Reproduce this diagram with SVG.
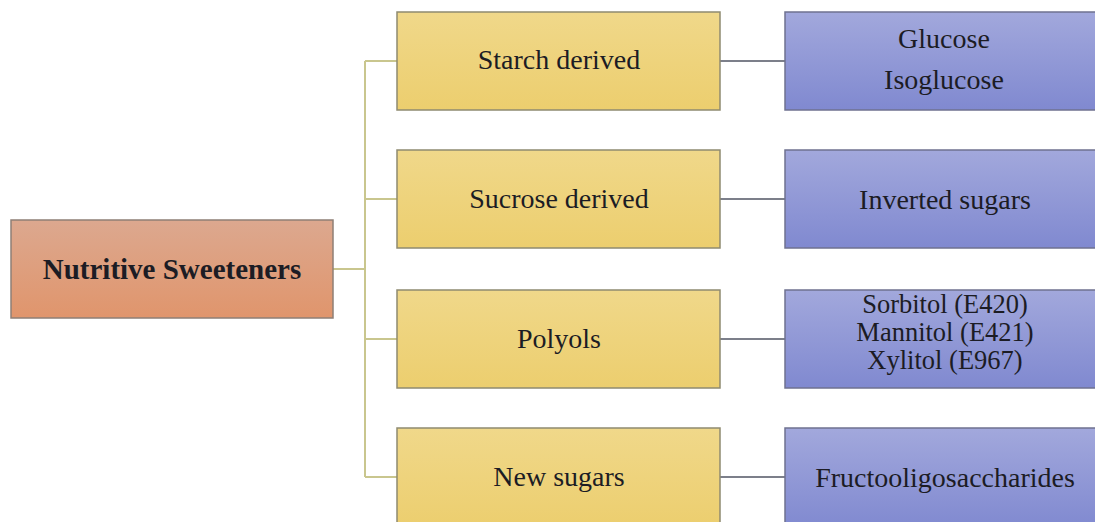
<svg xmlns="http://www.w3.org/2000/svg" width="1095" height="522" viewBox="0 0 1095 522">
<defs>
<linearGradient id="gRoot" x1="0" y1="0" x2="0" y2="1"><stop offset="0" stop-color="#dca88f"/><stop offset="1" stop-color="#e0956c"/></linearGradient>
<linearGradient id="gY" x1="0" y1="0" x2="0" y2="1"><stop offset="0" stop-color="#f0d88a"/><stop offset="1" stop-color="#ecce6e"/></linearGradient>
<linearGradient id="gB" x1="0" y1="0" x2="0" y2="1"><stop offset="0" stop-color="#a2a8dc"/><stop offset="1" stop-color="#8089d0"/></linearGradient>
</defs>
<style>
.root{fill:url(#gRoot);stroke:#8e7f76;stroke-width:1.5}
.y{fill:url(#gY);stroke:#8f8a70;stroke-width:1.5}
.b{fill:url(#gB);stroke:#6f7290;stroke-width:1.5}
.t{font-family:"Liberation Serif","Times New Roman",serif;font-size:28px;fill:#1c1c24;text-anchor:middle}
.bold{font-weight:bold;font-size:29px}
.sm{font-size:26.5px}
.bus{stroke:#c9c68e;stroke-width:2;fill:none}
.lnk{stroke:#7c7f8a;stroke-width:2;fill:none}
</style>
<rect width="1095" height="522" fill="#ffffff"/>
<g id="connectors">
<path class="bus" d="M333 269H365M365 61V477M365 61H397M365 199H397M365 339H397M365 477H397"/>
<path class="lnk" d="M720 61H785M720 199H785M720 339H785M720 477H785"/>
</g>
<g id="root"><rect class="root" x="11" y="220" width="322" height="98"/><text class="t bold" x="172" y="279">Nutritive Sweeteners</text></g>
<g id="starch"><rect class="y" x="397" y="12" width="323" height="98"/><text class="t" x="559" y="69">Starch derived</text></g>
<g id="sucrose"><rect class="y" x="397" y="150" width="323" height="98"/><text class="t" x="559" y="208">Sucrose derived</text></g>
<g id="polyols"><rect class="y" x="397" y="290" width="323" height="98"/><text class="t" x="559" y="348">Polyols</text></g>
<g id="newsugars"><rect class="y" x="397" y="428" width="323" height="100"/><text class="t" x="559" y="486">New sugars</text></g>
<g id="glucose"><rect class="b" x="785" y="12" width="322" height="98"/><text class="t" x="944" y="48">Glucose</text><text class="t" x="944" y="89">Isoglucose</text></g>
<g id="inverted"><rect class="b" x="785" y="150" width="322" height="98"/><text class="t" x="945" y="209">Inverted sugars</text></g>
<g id="polyolsList"><rect class="b" x="785" y="290" width="322" height="98"/><text class="t sm" x="945" y="313">Sorbitol (E420)</text><text class="t sm" x="945" y="341">Mannitol (E421)</text><text class="t sm" x="945" y="369">Xylitol (E967)</text></g>
<g id="fos"><rect class="b" x="785" y="428" width="322" height="100"/><text class="t" x="945" y="487">Fructooligosaccharides</text></g>
</svg>
